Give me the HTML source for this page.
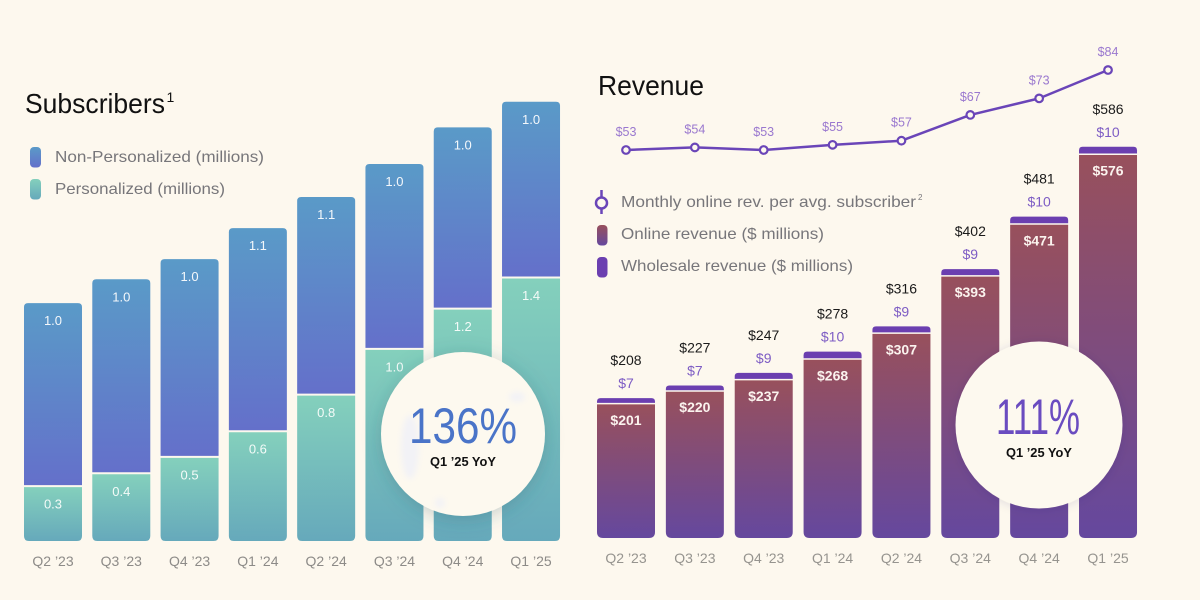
<!DOCTYPE html>
<html lang="en">
<head>
<meta charset="utf-8">
<title>Subscribers and Revenue</title>
<style>
html,body{margin:0;padding:0;background:#fdf8ee;}
svg{display:block;font-family:"Liberation Sans",sans-serif;}
</style>
</head>
<body>
<svg id="chart" width="1200" height="600" viewBox="0 0 1200 600" xmlns="http://www.w3.org/2000/svg">
  <defs>
    <linearGradient id="gNP" x1="0" y1="0" x2="0" y2="1"><stop offset="0" stop-color="#5a9ac8"/><stop offset="1" stop-color="#6470ca"/></linearGradient>
    <linearGradient id="gP" x1="0" y1="0" x2="0" y2="1"><stop offset="0" stop-color="#84d0bc"/><stop offset="1" stop-color="#66a9bb"/></linearGradient>
    <linearGradient id="gOn" x1="0" y1="0" x2="0" y2="1"><stop offset="0" stop-color="#98505c"/><stop offset="1" stop-color="#65489e"/></linearGradient>
    <filter id="soft" x="-30%" y="-30%" width="160%" height="160%"><feDropShadow dx="0" dy="3" stdDeviation="9" flood-color="#2f5f70" flood-opacity="0.28"/></filter>
    <filter id="soft2" x="-30%" y="-30%" width="160%" height="160%"><feDropShadow dx="0" dy="1" stdDeviation="5" flood-color="#3a2a60" flood-opacity="0.12"/></filter>
    <filter id="smudge" x="-50%" y="-50%" width="200%" height="200%"><feGaussianBlur stdDeviation="3"/></filter>
  </defs>
  <rect x="0" y="0" width="1200" height="600" fill="#fdf8ee"/>

  <g>
    <text x="25" y="113" font-size="28" fill="#111" textLength="140" lengthAdjust="spacingAndGlyphs">Subscribers</text>
    <text x="166.5" y="102" font-size="14" fill="#111">1</text>
  </g>
  <g>
    <g>
      <rect x="30" y="147" width="11" height="20.5" rx="4" fill="url(#gNP)"/>
      <text x="55" y="162" font-size="16" fill="#77767a" textLength="209" lengthAdjust="spacingAndGlyphs">Non-Personalized (millions)</text>
    </g>
    <g>
      <rect x="30" y="179" width="11" height="20.5" rx="4" fill="url(#gP)"/>
      <text x="55" y="194" font-size="16" fill="#77767a" textLength="170" lengthAdjust="spacingAndGlyphs">Personalized (millions)</text>
    </g>
  </g>

  <g id="subBars"></g>
  <g id="subTicks"></g>

  <g>
    <circle cx="463" cy="434" r="82" fill="#fdf9ef" filter="url(#soft)"/>
    <ellipse cx="410" cy="447" rx="9" ry="32" fill="#f2f2f6" filter="url(#smudge)"/>
    <ellipse cx="517" cy="397" rx="8" ry="5" fill="#f2f2f6" filter="url(#smudge)"/>
    <ellipse cx="440" cy="503" rx="5" ry="5" fill="#f2f2f6" filter="url(#smudge)"/>
    <text x="463" y="443" font-size="50" fill="#4a74c8" text-anchor="middle" textLength="108" lengthAdjust="spacingAndGlyphs">136%</text>
    <text x="463" y="466" font-size="13" font-weight="bold" fill="#111" text-anchor="middle" textLength="66" lengthAdjust="spacingAndGlyphs">Q1 ’25 YoY</text>
  </g>

  <text x="598" y="95" font-size="28" fill="#111" textLength="106" lengthAdjust="spacingAndGlyphs">Revenue</text>

  <g>
    <g>
      <line x1="601.5" y1="190" x2="601.5" y2="214" stroke="#6a45b8" stroke-width="2.5"/>
      <circle cx="601.5" cy="203" r="5.5" fill="#fdf8ee" stroke="#6a45b8" stroke-width="2.5"/>
      <text x="621" y="207" font-size="16" fill="#77767a" textLength="295" lengthAdjust="spacingAndGlyphs">Monthly online rev. per avg. subscriber</text>
      <text x="918" y="200" font-size="8" fill="#77767a">2</text>
    </g>
    <g>
      <rect x="597" y="225" width="10.5" height="20.5" rx="4" fill="url(#gOn)"/>
      <text x="621" y="239" font-size="16" fill="#77767a" textLength="203" lengthAdjust="spacingAndGlyphs">Online revenue ($ millions)</text>
    </g>
    <g>
      <rect x="597" y="257" width="10.5" height="20.5" rx="4" fill="#6b3fb0"/>
      <text x="621" y="271" font-size="16" fill="#77767a" textLength="232" lengthAdjust="spacingAndGlyphs">Wholesale revenue ($ millions)</text>
    </g>
  </g>

  <g id="revBars"></g>
  <g id="revLine"></g>
  <g id="revTicks"></g>

  <g>
    <circle cx="1039" cy="425" r="83.5" fill="#fdf9ef" filter="url(#soft2)"/>
    <text x="1038" y="434" font-size="50" fill="#6a4cc0" text-anchor="middle" textLength="84" lengthAdjust="spacingAndGlyphs">111%</text>
    <text x="1039" y="457" font-size="13" font-weight="bold" fill="#111" text-anchor="middle" textLength="66" lengthAdjust="spacingAndGlyphs">Q1 ’25 YoY</text>
  </g>
</svg>
<script>
const quarters = ["Q2 ’23","Q3 ’23","Q4 ’23","Q1 ’24","Q2 ’24","Q3 ’24","Q4 ’24","Q1 ’25"];
const personalized = [0.30,0.37,0.46,0.60,0.80,1.05,1.27,1.44];
const nonPersonalized = [1.00,1.06,1.08,1.11,1.08,1.01,0.99,0.96];
const personalizedLabels = ["0.3","0.4","0.5","0.6","0.8","1.0","1.2","1.4"];
const nonPersonalizedLabels = ["1.0","1.0","1.0","1.1","1.1","1.0","1.0","1.0"];
const onlineRevenue = [201,220,237,268,307,393,471,576];
const wholesaleRevenue = [7,7,9,10,9,9,10,10];
const totalRevenue = [208,227,247,278,316,402,481,586];
const monthlyRevenue = [53,54,53,55,56.6,66.6,73,84];
const monthlyRevenueLabels = ["$53","$54","$53","$55","$57","$67","$73","$84"];

const NS = "http://www.w3.org/2000/svg";
const BAR_W = 58;
const subX = i => 24 + i * 68.29;
const subH = v => v * 183;
const SUB_BASE = 541;
const revX = i => 597 + i * 68.86;
const revH = v => v * 0.665;
const REV_BASE = 538;
const lineY = v => 150 - (v - 53) * 2.58;

function mk(parent, tag, attrs, text) {
  const el = document.createElementNS(NS, tag);
  for (const k in attrs) el.setAttribute(k, attrs[k]);
  if (text !== undefined) el.textContent = text;
  parent.appendChild(el);
  return el;
}
function barPath(x, y, w, h, rTop, rBot) {
  return "M" + x + " " + (y + rTop) +
    "Q" + x + " " + y + " " + (x + rTop) + " " + y +
    "H" + (x + w - rTop) +
    "Q" + (x + w) + " " + y + " " + (x + w) + " " + (y + rTop) +
    "V" + (y + h - rBot) +
    "Q" + (x + w) + " " + (y + h) + " " + (x + w - rBot) + " " + (y + h) +
    "H" + (x + rBot) +
    "Q" + x + " " + (y + h) + " " + x + " " + (y + h - rBot) + "Z";
}

const subBars = document.getElementById("subBars");
const subTicks = document.getElementById("subTicks");
quarters.forEach((q, i) => {
  const x = subX(i);
  const split = SUB_BASE - subH(personalized[i]);
  const top = split - subH(nonPersonalized[i]);
  const cx = x + BAR_W / 2;

  const pBar = mk(subBars, "path", {d: barPath(x, split + 1, BAR_W, SUB_BASE - split - 1, 0, 5), fill: "url(#gP)"});
  
  

  const npBar = mk(subBars, "path", {d: barPath(x, top, BAR_W, split - 1 - top, 4, 0), fill: "url(#gNP)"});
  
  

  const pLabel = mk(subBars, "text", {x: cx, y: split + 22.5, "font-size": 13, fill: "#f4fbf8", "text-anchor": "middle"}, personalizedLabels[i]);
  
  

  const npLabel = mk(subBars, "text", {x: cx, y: top + 22, "font-size": 13, fill: "#f4f8fb", "text-anchor": "middle"}, nonPersonalizedLabels[i]);
  
  

  const tick = mk(subTicks, "text", {x: cx, y: 566, "font-size": 14, fill: "#8d8b88", "text-anchor": "middle"}, q);
  
  
});

const revBars = document.getElementById("revBars");
const revTicks = document.getElementById("revTicks");
const revLine = document.getElementById("revLine");
quarters.forEach((q, i) => {
  const x = revX(i);
  const cx = x + BAR_W / 2;
  const onTop = REV_BASE - revH(onlineRevenue[i]);
  const wBottom = onTop - 1.5;
  const wTop = wBottom - revH(wholesaleRevenue[i]);

  const onBar = mk(revBars, "path", {d: barPath(x, onTop, BAR_W, REV_BASE - onTop, 0, 6), fill: "url(#gOn)"});
  
  

  const wBar = mk(revBars, "path", {d: barPath(x, wTop, BAR_W, wBottom - wTop, 3.5, 0), fill: "#6b3fb0"});
  
  

  const onLabel = mk(revBars, "text", {x: cx, y: onTop + 20.5, "font-size": 14, "font-weight": "bold", fill: "#fbf3ee", "text-anchor": "middle"}, "$" + onlineRevenue[i]);
  
  

  const wLabel = mk(revBars, "text", {x: cx, y: wTop - 10, "font-size": 14, fill: "#7d5cc4", "text-anchor": "middle"}, "$" + wholesaleRevenue[i]);
  
  

  const tLabel = mk(revBars, "text", {x: cx, y: wTop - 33, "font-size": 14, fill: "#1a1a1a", "text-anchor": "middle"}, "$" + totalRevenue[i]);
  
  

  const tick = mk(revTicks, "text", {x: cx, y: 563, "font-size": 14, fill: "#96948f", "text-anchor": "middle"}, q);
  
  
});

const linePoints = monthlyRevenue.map((v, i) => (revX(i) + BAR_W / 2) + "," + lineY(v)).join(" ");
const poly = mk(revLine, "polyline", {points: linePoints, fill: "none", stroke: "#6a45b8", "stroke-width": 2.5, "stroke-linejoin": "round"});


monthlyRevenue.forEach((v, i) => {
  const cx = revX(i) + BAR_W / 2;
  const dot = mk(revLine, "circle", {cx: cx, cy: lineY(v), r: 3.8, fill: "#fdf8ee", stroke: "#6a45b8", "stroke-width": 2.2});
  
  
  const lab = mk(revLine, "text", {x: cx, y: lineY(v) - 14, "font-size": 12.5, fill: "#9a78cf", "text-anchor": "middle"}, monthlyRevenueLabels[i]);
  
  
});
</script>
</body>
</html>
